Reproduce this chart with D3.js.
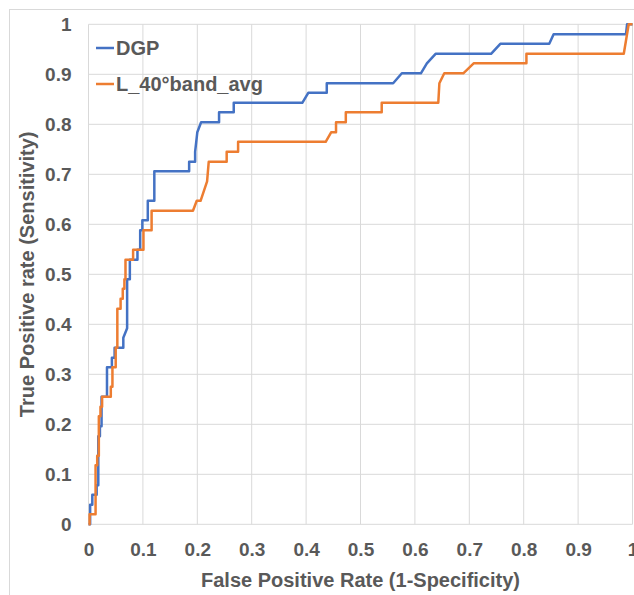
<!DOCTYPE html>
<html>
<head>
<meta charset="utf-8">
<script src="https://cdn.jsdelivr.net/npm/d3@7"></script>
<style>
  body { margin: 0; background: #fff; }
  text { font-family: "Liberation Sans", Arial, sans-serif; font-weight: bold; }
</style>
</head>
<body>
<div id="chart"></div>
<script>
// ROC points: [false positive rate, true positive rate]
const dgpPoints = [
  [0, 0], [0.003, 0], [0.003, 0.039], [0.007, 0.039], [0.007, 0.059], [0.015, 0.059],
  [0.015, 0.078], [0.018, 0.078], [0.018, 0.176], [0.021, 0.176], [0.021, 0.196],
  [0.024, 0.196], [0.024, 0.255], [0.034, 0.255], [0.034, 0.314], [0.043, 0.314],
  [0.043, 0.333], [0.048, 0.333], [0.048, 0.353], [0.064, 0.353], [0.064, 0.373],
  [0.071, 0.392], [0.071, 0.490], [0.076, 0.490], [0.076, 0.529], [0.090, 0.529],
  [0.090, 0.549], [0.095, 0.549], [0.095, 0.588], [0.099, 0.588], [0.099, 0.608],
  [0.109, 0.608], [0.109, 0.647], [0.121, 0.647], [0.121, 0.706], [0.185, 0.706],
  [0.185, 0.725], [0.196, 0.725], [0.196, 0.745], [0.200, 0.784], [0.207, 0.804],
  [0.240, 0.804], [0.240, 0.824], [0.267, 0.824], [0.267, 0.843], [0.393, 0.843],
  [0.404, 0.863], [0.438, 0.863], [0.438, 0.882], [0.560, 0.882], [0.576, 0.902],
  [0.611, 0.902], [0.622, 0.922], [0.638, 0.941], [0.740, 0.941], [0.757, 0.961],
  [0.847, 0.961], [0.855, 0.980], [0.988, 0.980], [0.990, 1], [1, 1]
];

const bandPoints = [
  [0, 0], [0.002, 0], [0.002, 0.020], [0.013, 0.020], [0.013, 0.118], [0.016, 0.118],
  [0.016, 0.137], [0.019, 0.137], [0.019, 0.216], [0.022, 0.216], [0.022, 0.235],
  [0.025, 0.235], [0.025, 0.255], [0.041, 0.255], [0.041, 0.275], [0.044, 0.275],
  [0.044, 0.314], [0.050, 0.314], [0.050, 0.353], [0.053, 0.353], [0.053, 0.431],
  [0.059, 0.431], [0.059, 0.451], [0.063, 0.451], [0.063, 0.471], [0.066, 0.471],
  [0.066, 0.490], [0.068, 0.490], [0.068, 0.529], [0.082, 0.529], [0.082, 0.549],
  [0.101, 0.549], [0.101, 0.588], [0.116, 0.588], [0.116, 0.627], [0.192, 0.627],
  [0.199, 0.647], [0.206, 0.647], [0.218, 0.686], [0.221, 0.725], [0.254, 0.725],
  [0.254, 0.745], [0.275, 0.745], [0.275, 0.765], [0.436, 0.765], [0.446, 0.784],
  [0.455, 0.784], [0.455, 0.804], [0.473, 0.804], [0.473, 0.824], [0.539, 0.824],
  [0.539, 0.843], [0.643, 0.843], [0.645, 0.882], [0.654, 0.902], [0.689, 0.902],
  [0.708, 0.922], [0.805, 0.922], [0.805, 0.941], [0.984, 0.941], [0.993, 1], [1, 1]
];

const seriesNames = ["DGP", "L_40°band_avg"];
const seriesColors = ["#4472C4", "#ED7D31"];
const tickValues = [0, 0.1, 0.2, 0.3, 0.4, 0.5, 0.6, 0.7, 0.8, 0.9, 1];

const width = 634, height = 595;
const plot = { left: 88.5, right: 632.5, top: 24.3, bottom: 524.3 };

const svg = d3.select("#chart").append("svg")
  .attr("width", width)
  .attr("height", height);

svg.append("rect")
  .attr("x", 9.5).attr("y", 9.5)
  .attr("width", 660).attr("height", 620)
  .attr("fill", "#fff")
  .attr("stroke", "#D9D9D9");

const x = d3.scaleLinear().domain([0, 1]).range([plot.left, plot.right]);
const y = d3.scaleLinear().domain([0, 1]).range([plot.bottom, plot.top]);

// gridlines
svg.append("g").selectAll("line.vg").data(tickValues).enter()
  .append("line")
  .attr("x1", d => x(d)).attr("x2", d => x(d))
  .attr("y1", plot.top).attr("y2", plot.bottom)
  .attr("stroke", "#D9D9D9").attr("stroke-width", 1);

svg.append("g").selectAll("line.hg").data(tickValues).enter()
  .append("line")
  .attr("x1", plot.left).attr("x2", plot.right)
  .attr("y1", d => y(d)).attr("y2", d => y(d))
  .attr("stroke", "#D9D9D9").attr("stroke-width", 1);

// axes (labels only, Excel style)
const fmt = d => d3.format("")(+d.toFixed(1));

const xAxis = svg.append("g")
  .attr("transform", `translate(0,${plot.bottom})`)
  .call(d3.axisBottom(x).tickValues(tickValues).tickFormat(fmt).tickSize(0).tickPadding(18));
xAxis.select(".domain").remove();

const yAxis = svg.append("g")
  .attr("transform", `translate(${plot.left},0)`)
  .call(d3.axisLeft(y).tickValues(tickValues).tickFormat(fmt).tickSize(0).tickPadding(17));
yAxis.select(".domain").remove();

svg.selectAll(".tick text")
  .attr("fill", "#595959")
  .style("font-size", "19px")
  .style("font-family", "'Liberation Sans', Arial, sans-serif")
  .style("font-weight", "bold");

// lines
const line = d3.line().x(d => x(d[0])).y(d => y(d[1]));
[dgpPoints, bandPoints].forEach((pts, i) => {
  svg.append("path")
    .datum(pts)
    .attr("d", line)
    .attr("fill", "none")
    .attr("stroke", seriesColors[i])
    .attr("stroke-width", 2.5)
    .attr("stroke-linejoin", "round");
});

// legend
const legend = svg.append("g");
seriesNames.forEach((name, i) => {
  const ly = 48 + i * 36;
  legend.append("line")
    .attr("x1", 96).attr("x2", 114)
    .attr("y1", ly).attr("y2", ly)
    .attr("stroke", seriesColors[i]).attr("stroke-width", 2.5);
  legend.append("text")
    .attr("x", 116).attr("y", ly + 7)
    .attr("fill", "#595959")
    .style("font-size", "20px")
    .text(name);
});

// axis titles
svg.append("text")
  .attr("x", (plot.left + plot.right) / 2)
  .attr("y", 587)
  .attr("text-anchor", "middle")
  .attr("fill", "#595959")
  .style("font-size", "20px")
  .text("False Positive Rate (1-Specificity)");

svg.append("text")
  .attr("transform", `translate(34,${(plot.top + plot.bottom) / 2}) rotate(-90)`)
  .attr("text-anchor", "middle")
  .attr("fill", "#595959")
  .style("font-size", "20px")
  .text("True Positive rate (Sensitivity)");
</script>
</body>
</html>
